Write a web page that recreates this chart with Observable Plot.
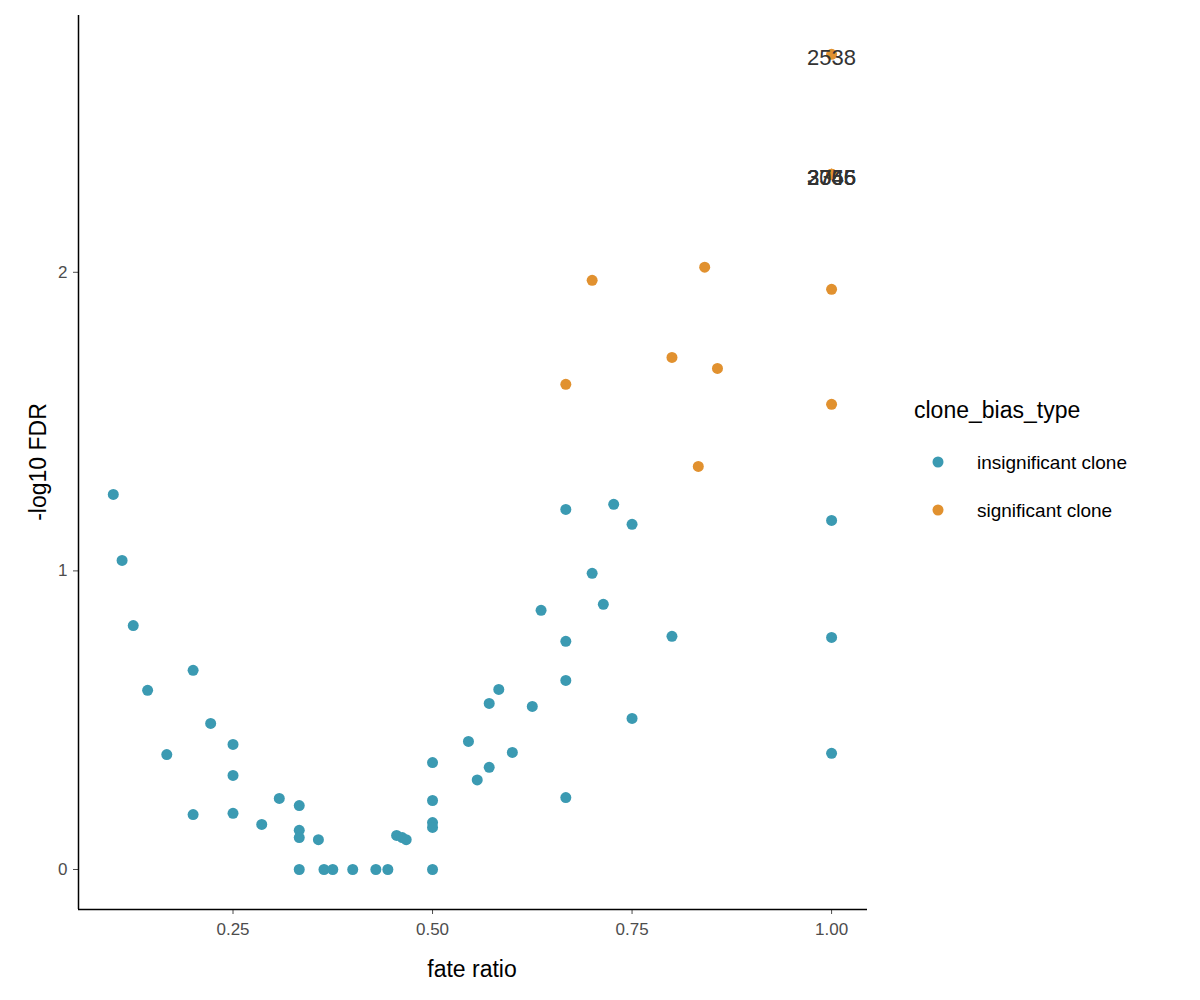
<!DOCTYPE html>
<html><head><meta charset="utf-8">
<script src="https://cdn.jsdelivr.net/npm/d3@7"></script>
<script src="https://cdn.jsdelivr.net/npm/@observablehq/plot@0.6"></script>
<style>body{margin:0;background:#fff;font-family:Arial,"Liberation Sans",sans-serif}#chart{position:relative}</style>
</head><body><div id="chart"></div>
<script>
const insigRatio = [0.1,0.111,0.125,0.143,0.167,0.2,0.2,0.222,0.25,0.25,0.25,0.286,0.308,0.333,0.333,0.333,0.333,0.357,0.364,0.375,0.4,0.429,0.444,0.455,0.462,0.467,0.5,0.5,0.5,0.5,0.5,0.545,0.556,0.571,0.571,0.583,0.6,0.625,0.636,0.667,0.667,0.667,0.667,0.7,0.714,0.727,0.75,0.75,0.8,1,1,1];
const insigFdr = [1.256,1.035,0.817,0.6,0.385,0.667,0.184,0.489,0.419,0.315,0.188,0.151,0.238,0.214,0.131,0.107,0,0.1,0,0,0,0,0,0.114,0.107,0.1,0.358,0.231,0.157,0.141,0,0.429,0.3,0.342,0.556,0.603,0.392,0.546,0.868,1.206,0.764,0.633,0.241,0.992,0.888,1.223,1.156,0.506,0.781,1.169,0.777,0.389];
const sigRatio = [0.667,0.7,0.8,0.833,0.857,0.841,1,1,1,1,1,1,1];
const sigFdr = [1.625,1.973,1.715,1.35,1.678,2.017,1.943,1.558,2.73,2.328,2.328,2.328,2.328];
const labelRatio = [1,1,1,1,1];
const labelFdr = [2.73,2.328,2.328,2.328,2.328];
const labelText = ["2538","2366","3045","3746","2755"];
const types = ["insignificant clone","significant clone"];
const colors = ["#3b9ab2","#e1912f"];

const pts = insigRatio.map((r,i)=>({ratio:r,fdr:insigFdr[i],type:types[0]}))
  .concat(sigRatio.map((r,i)=>({ratio:r,fdr:sigFdr[i],type:types[1]})));
const labels = labelText.map((t,i)=>({ratio:labelRatio[i],fdr:labelFdr[i],text:t}));

const chart = Plot.plot({
  width:1200, height:1000,
  marginLeft:78, marginRight:333, marginTop:15, marginBottom:91,
  style:{fontFamily:"Arial, Liberation Sans, sans-serif"},
  x:{domain:[0.0564,1.045]},
  y:{domain:[-0.134,2.86]},
  color:{domain:types, range:colors},
  marks:[
    Plot.axisX({ticks:[0.25,0.5,0.75,1], tickFormat:".2f", fontSize:17, color:"#4d4d4d", tickSize:5, tickPadding:8,
      label:null}),
    Plot.axisY({ticks:[0,1,2], tickFormat:"d", fontSize:17, color:"#4d4d4d", tickSize:5, tickPadding:6, label:null}),
    Plot.dot(pts,{x:"ratio",y:"fdr",fill:"type",r:5.5}),
    Plot.text(labels,{x:"ratio",y:"fdr",text:"text",fontSize:22,fill:"#333",dy:4}),
    Plot.ruleX([0.0564],{stroke:"#000",strokeWidth:1.5}),
    Plot.ruleY([-0.134],{stroke:"#000",strokeWidth:1.5})
  ]
});
const svg = d3.select(chart);
svg.append("text").attr("x",472).attr("y",977).attr("text-anchor","middle").attr("font-size",23).attr("fill","#000").text("fate ratio");
svg.append("text").attr("transform","translate(46,462) rotate(-90)").attr("text-anchor","middle").attr("font-size",23).attr("fill","#000").text("-log10 FDR");
const lg = svg.append("g").attr("text-anchor","start");
lg.append("text").attr("x",914).attr("y",418).attr("font-size",23).attr("fill","#000").text("clone_bias_type");
types.forEach((t,i)=>{
  lg.append("circle").attr("cx",938).attr("cy",462+i*48).attr("r",5.5).attr("fill",colors[i]);
  lg.append("text").attr("x",977).attr("y",469+i*48).attr("font-size",19).attr("fill","#000").text(t);
});
d3.select('#chart').append(()=>chart);
</script></body></html>
